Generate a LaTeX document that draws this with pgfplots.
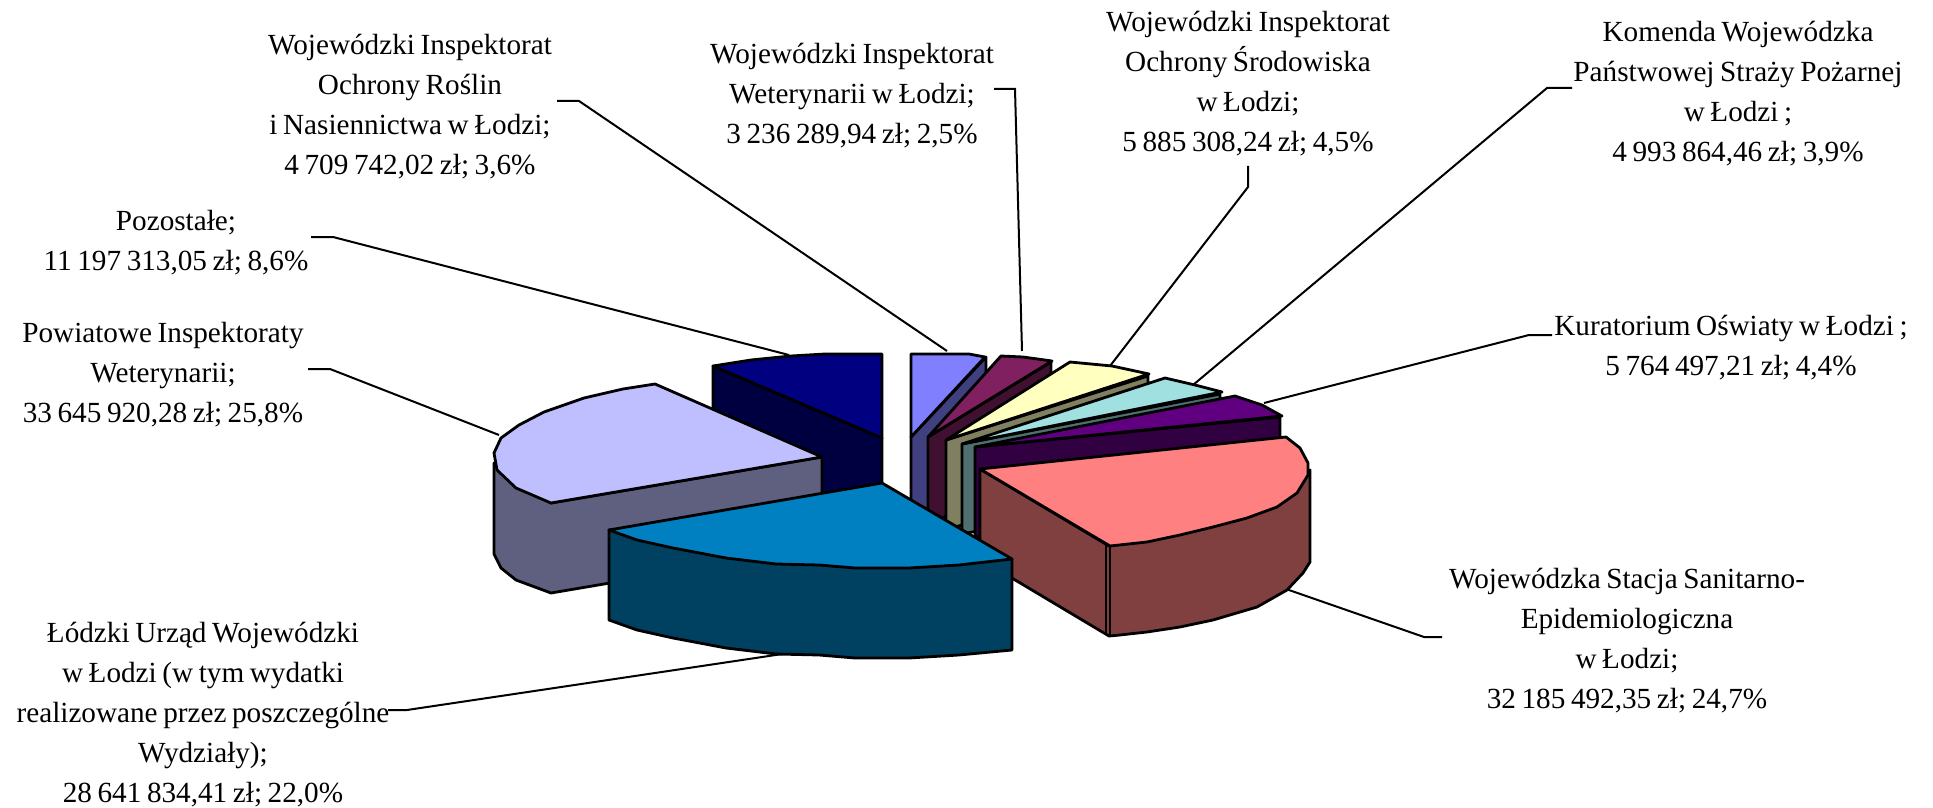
\documentclass[border=0pt]{standalone}
\usepackage{fontspec}
\setmainfont{Liberation Serif}
\usepackage{pgfplots}
\pgfplotsset{compat=1.18}

% pie side and top colours
\definecolor{navyT}{HTML}{000080}\definecolor{navyS}{HTML}{000040}
\definecolor{lavT}{HTML}{BFBFFF}\definecolor{lavS}{HTML}{5F5F7F}
\definecolor{periT}{HTML}{8080FF}\definecolor{periS}{HTML}{404080}
\definecolor{wineT}{HTML}{802060}\definecolor{wineS}{HTML}{401030}
\definecolor{yelT}{HTML}{FFFFC0}\definecolor{yelS}{HTML}{808060}
\definecolor{cyaT}{HTML}{A0E0E0}\definecolor{cyaS}{HTML}{507070}
\definecolor{purT}{HTML}{600080}\definecolor{purS}{HTML}{300040}
\definecolor{pinkT}{HTML}{FF8080}\definecolor{pinkS}{HTML}{804040}
\definecolor{bluT}{HTML}{0080C0}\definecolor{bluS}{HTML}{004060}

\tikzset{
    slice/.style={draw=black, line width=1.4pt, line join=round},
    leader/.style={draw=black, line width=1pt},
    lab/.style={align=center, inner sep=0pt, yshift=-1.5pt, font=\fontsize{14.6}{20}\selectfont, execute at begin node={\spaceskip=2.8pt\relax}},
}

\begin{document}
\begin{tikzpicture}
\useasboundingbox (0,0) rectangle (966.5pt,404pt);
\begin{axis}[
    scale only axis,
    width=966.5pt,
    height=404pt,
    xmin=0, xmax=1933,
    ymin=0, ymax=808,
    y dir=reverse,
    hide axis,
    clip=false,
]
% leaders
\addplot[leader] coordinates {(557,101) (579,101) (947,351)};
\addplot[leader] coordinates {(994,89) (1015,89) (1022,351)};
\addplot[leader] coordinates {(1248,166) (1248,187) (1110,366)};
\addplot[leader] coordinates {(1572,88) (1547,88) (1193,385)};
\addplot[leader] coordinates {(1552,335) (1529,335) (1264,403)};
\addplot[leader] coordinates {(1442,637) (1424,637) (1286,589)};
\addplot[leader] coordinates {(388,710) (407,710) (789,653)};
\addplot[leader] coordinates {(308,369) (330,369) (499,435)};
\addplot[leader] coordinates {(311,237) (333,237) (789,355)};

% Pozostale
\addplot[slice, fill=navyS] coordinates {(713,366) (882,438) (882,528) (713,456)} -- cycle;
\addplot[slice, fill=navyT] coordinates {(882,438) (882,354) (825,354) (791,356) (751,360) (713,366)} -- cycle;
% Powiatowe
\addplot[slice, fill=lavS] coordinates {(494,463) (494,554) (501,568) (516,580) (551,593) (822,547) (822,457) (551,503)} -- cycle;
\addplot[slice, fill=lavT] coordinates {(822,457) (655,384) (623,389) (584,398) (544,412) (519,425) (501,438) (494,453) (497,470) (516,488) (551,503)} -- cycle;
% WIORiN
\addplot[slice, fill=periS] coordinates {(911,437) (986,357) (986,447) (911,527)} -- cycle;
\addplot[slice, fill=periT] coordinates {(911,437) (911,354) (969,354) (985,357)} -- cycle;
% WIW
\addplot[slice, fill=wineS] coordinates {(928,437) (1051,362) (1051,452) (928,527)} -- cycle;
\addplot[slice, fill=wineT] coordinates {(928,437) (1001,356) (1023,357) (1052,361)} -- cycle;
% WIOS
\addplot[slice, fill=yelS] coordinates {(946,440) (1148,376) (1148,466) (946,530)} -- cycle;
\addplot[slice, fill=yelT] coordinates {(946,440) (1070,362) (1112,366) (1149,374)} -- cycle;
% KWPSP
\addplot[slice, fill=cyaS] coordinates {(962,444) (1220,394) (1220,484) (962,534)} -- cycle;
\addplot[slice, fill=cyaT] coordinates {(962,444) (1165,378) (1195,385) (1222,392)} -- cycle;
% Kuratorium
\addplot[slice, fill=purS] coordinates {(975,447) (1280,417) (1280,507) (975,537)} -- cycle;
\addplot[slice, fill=purT] coordinates {(975,447) (1235,396) (1262,405) (1282,416)} -- cycle;
% WSSE
\addplot[slice, fill=pinkS] coordinates {(980,469) (980,559) (1109,636) (1120,635) (1147,632) (1180,627) (1213,620) (1257,607) (1287,590) (1303,573) (1310,562) (1310,470) (1109,546)} -- cycle;
\addplot[slice, fill=pinkT] coordinates {(980,469) (1286,437) (1300,448) (1308,463) (1308,475) (1297,493) (1277,507) (1247,518) (1213,527) (1180,535) (1147,542) (1110,546)} -- cycle;
\addplot[draw=black, line width=1pt] coordinates {(1106,545) (1106,635)};
\addplot[draw=black, line width=1pt] coordinates {(1110,546) (1110,636)};
% LUW
\addplot[slice, fill=bluS] coordinates {(609,530) (609,620) (637,630) (673,638) (726,648) (776,654) (819,655) (855,658) (909,658) (959,655) (1012,650) (1012,559)} -- cycle;
\addplot[slice, fill=bluT] coordinates {(882,483) (609,530) (637,540) (673,548) (726,558) (776,564) (819,565) (855,568) (909,568) (959,565) (1012,559)} -- cycle;

% labels
\node[lab] at (axis cs:410,104) {Wojewódzki Inspektorat\\Ochrony Roślin\\i Nasiennictwa w Łodzi;\\4 709 742,02 zł; 3,6\%};
\node[lab] at (axis cs:852,93) {Wojewódzki Inspektorat\\Weterynarii w Łodzi;\\3 236 289,94 zł; 2,5\%};
\node[lab] at (axis cs:1248,81) {Wojewódzki Inspektorat\\Ochrony Środowiska\\w Łodzi;\\5 885 308,24 zł; 4,5\%};
\node[lab] at (axis cs:1738,91) {Komenda Wojewódzka\\Państwowej Straży Pożarnej\\w Łodzi ;\\4 993 864,46 zł; 3,9\%};
\node[lab] at (axis cs:1731,345) {Kuratorium Oświaty w Łodzi ;\\5 764 497,21 zł; 4,4\%};
\node[lab] at (axis cs:1627,638) {Wojewódzka Stacja Sanitarno-\\Epidemiologiczna\\w Łodzi;\\32 185 492,35 zł; 24,7\%};
\node[lab] at (axis cs:203,712) {Łódzki Urząd Wojewódzki\\w Łodzi (w tym wydatki\\realizowane przez poszczególne\\Wydziały);\\28 641 834,41 zł; 22,0\%};
\node[lab] at (axis cs:163,372) {Powiatowe Inspektoraty\\Weterynarii;\\33 645 920,28 zł; 25,8\%};
\node[lab] at (axis cs:176,240) {Pozostałe;\\11 197 313,05 zł; 8,6\%};
\end{axis}
\end{tikzpicture}
\end{document}
